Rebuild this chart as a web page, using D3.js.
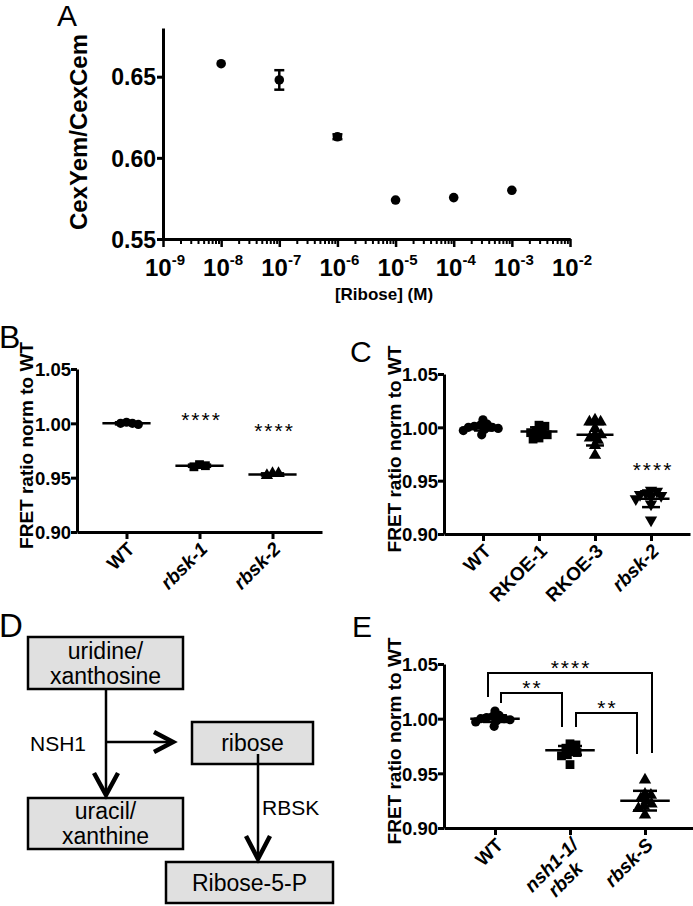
<!DOCTYPE html>
<html>
<head>
<meta charset="utf-8">
<script src="https://cdn.jsdelivr.net/npm/d3@7"></script>
<style>
  html, body { margin: 0; padding: 0; background: #fff; }
  svg { display: block; font-family: Arial, "Liberation Sans", Helvetica, sans-serif; }
</style>
</head>
<body>
<svg id="fig" width="693" height="906"></svg>
<script>
// ---------------- DATA ----------------
// Panel A
const aConc = [1e-8, 1e-7, 1e-6, 1e-5, 1e-4, 1e-3];
const aMean = [0.658, 0.648, 0.613, 0.574, 0.5755, 0.580];
const aErr  = [0, 0.006, 0.0015, 0, 0, 0];
const aYTicks = [0.55, 0.60, 0.65];
const aXExp = [-9, -8, -7, -6, -5, -4, -3, -2];

// Panel B
const bCats = ["WT", "rbsk-1", "rbsk-2"];
const bItalic = [false, true, true];
const bShapes = ["circle", "square", "triangle"];
const bPoints = [
  [1.001, 1.000, 0.999, 1.000],
  [0.962, 0.961, 0.960],
  [0.954, 0.952, 0.954]
];
const bMean = [1.000, 0.961, 0.953];
const bSD = [0.001, 0.001, 0.001];
const bSig = ["", "****", "****"];
const bSigY = [null, 1.0055, 0.9955];

// Panel C
const cCats = ["WT", "RKOE-1", "RKOE-3", "rbsk-2"];
const cItalic = [false, false, false, true];
const cShapes = ["circle", "square", "triangle", "triangleDown"];
const cPoints = [
  [1.000, 1.007, 0.993, 1.003, 0.998, 1.001, 0.999, 1.002, 0.997, 1.000],
  [1.002, 1.001, 0.997, 0.996, 0.995, 0.990, 0.989, 0.993],
  [1.007, 1.005, 1.005, 0.999, 0.993, 0.993, 0.990, 0.988, 0.983, 0.974],
  [0.941, 0.940, 0.938, 0.937, 0.936, 0.935, 0.933, 0.928, 0.913]
];
const cMean = [1.000, 0.996, 0.993, 0.933];
const cSD = [0.003, 0.004, 0.010, 0.0078];
const cSig = ["", "", "", "****"];
const cSigY = [null, null, null, 0.9625];

// Panel E
const eCats = ["WT", "nsh1-1/\nrbsk", "rbsk-S"];
const eItalic = [false, true, true];
const eShapes = ["circle", "square", "triangle"];
const ePoints = [
  [1.000, 1.007, 0.993, 1.003, 0.997, 1.001, 0.999, 1.000, 1.002, 0.998],
  [0.977, 0.976, 0.973, 0.971, 0.969, 0.967, 0.966, 0.958],
  [0.944, 0.931, 0.930, 0.927, 0.925, 0.922, 0.920, 0.918, 0.912]
];
const eMean = [1.000, 0.971, 0.925];
const eSD = [0.003, 0.004, 0.009];
const eBrackets = [
  { from: 0, to: 2, top: 1.0418, leftEnd: 1.0198, rightEnd: 0.9686, label: "****" },
  { from: 0, to: 1, top: 1.0235, leftEnd: 1.0143, rightEnd: 0.9924, label: "**" },
  { from: 1, to: 2, top: 1.0052, leftEnd: 0.9924, rightEnd: 0.9677, label: "**" }
];
const fretTicks = [0.90, 0.95, 1.00, 1.05];

// Panel D (diagram)
const dBoxes = [
  { lines: ["uridine/", "xanthosine"], x0: 28, x1: 183, y0: 637, y1: 689 },
  { lines: ["ribose"], x0: 192, x1: 313, y0: 722, y1: 764 },
  { lines: ["uracil/", "xanthine"], x0: 28, x1: 183, y0: 798, y1: 849 },
  { lines: ["Ribose-5-P"], x0: 166, x1: 333, y0: 862, y1: 903 }
];

// ---------------- DRAW ----------------
const svg = d3.select("#fig");
const BLACK = "#000";

function panelLetter(t, x, y, size) {
  svg.append("text").attr("x", x).attr("y", y).attr("font-size", size)
    .attr("fill", BLACK).text(t);
}

function styleAxis(g, w) {
  g.selectAll("path.domain").attr("stroke", BLACK).attr("stroke-width", w);
  g.selectAll(".tick line").attr("stroke", BLACK).attr("stroke-width", w);
}

// ---- Panel A ----
(function () {
  const x = d3.scaleLog().domain([1e-9, 1e-2]).range([163, 570]);
  const y = d3.scaleLinear().domain([0.55, 0.68]).range([239, 28]);
  panelLetter("A", 57, 26, 30);

  const yAx = svg.append("g").attr("transform", "translate(163,0)")
    .call(d3.axisLeft(y).tickValues(aYTicks).tickFormat(d3.format(".2f")).tickSize(6).tickSizeOuter(0));
  styleAxis(yAx, 3);
  yAx.selectAll("text").attr("font-size", 23).attr("font-weight", "bold").attr("fill", BLACK)
    .attr("x", -7).attr("dy", "0.36em");

  // minor ticks
  const minors = [];
  for (let k = -9; k < -2; k++) for (let m = 2; m <= 9; m++) minors.push(m * Math.pow(10, k));
  const xMin = svg.append("g").attr("transform", "translate(0,239)")
    .call(d3.axisBottom(x).tickValues(minors).tickFormat("").tickSize(5).tickSizeOuter(0));
  styleAxis(xMin, 3);
  xMin.selectAll(".tick line").attr("stroke-width", 2);
  const majors = aXExp.map(e => Math.pow(10, e));
  const xAx = svg.append("g").attr("transform", "translate(0,239)")
    .call(d3.axisBottom(x).tickValues(majors).tickFormat("").tickSize(8).tickSizeOuter(0));
  styleAxis(xAx, 3);
  xAx.selectAll(".tick line").attr("stroke-width", 2.5);

  const lab = svg.append("g").selectAll("text").data(aXExp).join("text")
    .attr("x", e => x(Math.pow(10, e)) + 2).attr("y", 276)
    .attr("text-anchor", "middle").attr("font-weight", "bold").attr("font-size", 24).attr("fill", BLACK);
  lab.append("tspan").text("10");
  lab.append("tspan").attr("dy", -11).attr("font-size", 15).text(e => String(e));

  svg.append("text").attr("x", 384).attr("y", 300).attr("text-anchor", "middle")
    .attr("font-weight", "bold").attr("font-size", 17).attr("fill", BLACK).text("[Ribose] (M)");

  svg.append("text").attr("transform", "translate(87,132) rotate(-90)")
    .attr("text-anchor", "middle").attr("font-weight", "bold").attr("font-size", 24)
    .attr("fill", BLACK).text("CexYem/CexCem");

  const data = aConc.map((c, i) => ({ c, m: aMean[i], e: aErr[i] }));
  const eb = svg.append("g").attr("stroke", BLACK).attr("stroke-width", 2.5);
  data.filter(d => d.e > 0).forEach(d => {
    const cx = x(d.c);
    eb.append("line").attr("x1", cx).attr("x2", cx).attr("y1", y(d.m + d.e)).attr("y2", y(d.m - d.e));
    eb.append("line").attr("x1", cx - 5).attr("x2", cx + 5).attr("y1", y(d.m + d.e)).attr("y2", y(d.m + d.e));
    eb.append("line").attr("x1", cx - 5).attr("x2", cx + 5).attr("y1", y(d.m - d.e)).attr("y2", y(d.m - d.e));
  });
  svg.append("g").selectAll("circle").data(data).join("circle")
    .attr("cx", d => x(d.c)).attr("cy", d => y(d.m)).attr("r", 4.8).attr("fill", BLACK);
})();

// ---- scatter panels ----
function swarm(values, y, r) {
  const placed = [];
  const order = values.map((v, i) => i).sort((a, b) => values[b] - values[a]);
  const res = new Array(values.length);
  order.forEach(i => {
    const py = y(values[i]);
    const cands = [0];
    placed.forEach(p => {
      const dy = Math.abs(p.y - py);
      if (dy < 2 * r) {
        const dx = Math.sqrt(4 * r * r - dy * dy);
        cands.push(p.x + dx, p.x - dx);
      }
    });
    cands.sort((a, b) => Math.abs(a) - Math.abs(b));
    let best = 0;
    for (const c of cands) {
      const ok = placed.every(p => Math.hypot(p.x - c, p.y - py) >= 2 * r - 0.01);
      if (ok) { best = c; break; }
    }
    placed.push({ x: best, y: py });
    res[i] = best;
  });
  return res;
}

function marker(g, shape, cx, cy) {
  if (shape === "circle") {
    g.append("circle").attr("cx", cx).attr("cy", cy).attr("r", 4.6).attr("fill", BLACK);
  } else if (shape === "square") {
    g.append("rect").attr("x", cx - 4.4).attr("y", cy - 4.4).attr("width", 8.8).attr("height", 8.8).attr("fill", BLACK);
  } else {
    const sym = d3.symbol().type(d3.symbolTriangle).size(66);
    const p = g.append("path").attr("d", sym()).attr("fill", BLACK);
    if (shape === "triangle") p.attr("transform", `translate(${cx},${cy})`);
    else p.attr("transform", `translate(${cx},${cy}) rotate(180)`);
  }
}

function scatterPanel(opt) {
  const y = d3.scaleLinear().domain([0.90, 1.05]).range([opt.y0, opt.y1]);
  const x = d3.scalePoint().domain(opt.cats).range([opt.x0, opt.x1]).padding(opt.pad);
  const step = x.step();

  const yAx = svg.append("g").attr("transform", `translate(${opt.x0},0)`)
    .call(d3.axisLeft(y).tickValues(fretTicks).tickFormat(d3.format(".2f")).tickSize(6).tickSizeOuter(0));
  styleAxis(yAx, 3);
  yAx.selectAll("text").attr("font-size", 18.5).attr("font-weight", "bold").attr("fill", BLACK)
    .attr("x", -6).attr("dy", "0.36em");

  const xAx = svg.append("g").attr("transform", `translate(0,${opt.y0})`)
    .call(d3.axisBottom(x).tickFormat("").tickSize(7).tickSizeOuter(0));
  styleAxis(xAx, 3);

  // rotated category labels
  opt.cats.forEach((c, i) => {
    const t = svg.append("text")
      .attr("transform", `translate(${x(c) + 5},${opt.y0 + 14}) rotate(-45)`)
      .attr("text-anchor", "end").attr("font-weight", "bold").attr("font-size", 19)
      .attr("font-style", opt.italic[i] ? "italic" : "normal").attr("fill", BLACK);
    const lines = c.split("\n");
    const spans = lines.map((ln, k) => t.append("tspan").attr("x", 0).attr("y", k * 20 + 6).text(ln));
    if (lines.length > 1) {
      const lens = spans.map(s => s.node().getComputedTextLength());
      const mx = d3.max(lens);
      spans.forEach((s, k) => s.attr("x", -(mx - lens[k]) / 2));
    }
  });

  svg.append("text").attr("transform", `translate(${opt.labX},${(opt.y0 + opt.y1) / 2 - 5}) rotate(-90)`)
    .attr("text-anchor", "middle").attr("font-weight", "bold").attr("font-size", 19)
    .attr("fill", BLACK).text("FRET ratio norm to WT");

  const g = svg.append("g");
  opt.cats.forEach((c, i) => {
    const cx = x(c);
    const offs = swarm(opt.points[i], y, 3);
    opt.points[i].forEach((v, k) => marker(g, opt.shapes[i], cx + offs[k], y(v)));
    const hw = step * 0.33, cw = step * 0.16;
    const m = opt.mean[i], s = opt.sd[i];
    g.append("line").attr("x1", cx - hw).attr("x2", cx + hw).attr("y1", y(m)).attr("y2", y(m))
      .attr("stroke", BLACK).attr("stroke-width", 2.5);
    g.append("line").attr("x1", cx).attr("x2", cx).attr("y1", y(m + s)).attr("y2", y(m - s))
      .attr("stroke", BLACK).attr("stroke-width", 2.5);
    [m + s, m - s].forEach(v => g.append("line").attr("x1", cx - cw).attr("x2", cx + cw)
      .attr("y1", y(v)).attr("y2", y(v)).attr("stroke", BLACK).attr("stroke-width", 2.5));
    if (opt.sig && opt.sig[i]) {
      svg.append("text").attr("x", cx + 2).attr("y", y(opt.sigY[i]) + 10).attr("text-anchor", "middle")
        .attr("font-size", 21).attr("letter-spacing", 2).attr("fill", BLACK).text(opt.sig[i]);
    }
  });
  return { x, y };
}

panelLetter("B", -1, 348, 32);
scatterPanel({ cats: bCats, italic: bItalic, shapes: bShapes, points: bPoints, mean: bMean, sd: bSD,
  sig: bSig, sigY: bSigY, x0: 77, x1: 322, y0: 532, y1: 369, pad: 0.678, labX: 33 });

panelLetter("C", 350, 362, 30);
scatterPanel({ cats: cCats, italic: cItalic, shapes: cShapes, points: cPoints, mean: cMean, sd: cSD,
  sig: cSig, sigY: cSigY, x0: 444, x1: 690, y0: 534, y1: 374, pad: 0.696, labX: 401 });

panelLetter("E", 352, 637, 30);
const eSc = scatterPanel({ cats: eCats, italic: eItalic, shapes: eShapes, points: ePoints, mean: eMean, sd: eSD,
  sig: null, sigY: null, x0: 444, x1: 696, y0: 828, y1: 664, pad: 0.68, labX: 401 });

// brackets
(function () {
  const { x, y } = eSc;
  const offs = [[-7, 7], [6, -8], [6, -8]];
  eBrackets.forEach((b, i) => {
    const xl = x(eCats[b.from]) + offs[i][0];
    const xr = x(eCats[b.to]) + offs[i][1];
    svg.append("path")
      .attr("d", `M${xl},${y(b.leftEnd)}V${y(b.top)}H${xr}V${y(b.rightEnd)}`)
      .attr("fill", "none").attr("stroke", BLACK).attr("stroke-width", 2);
    svg.append("text").attr("x", (xl + xr) / 2 + 1).attr("y", y(b.top) + 2).attr("text-anchor", "middle")
      .attr("font-size", 21).attr("letter-spacing", 2).attr("fill", BLACK).text(b.label);
  });
})();

// ---- Panel D ----
(function () {
  panelLetter("D", -1, 637, 33);
  const g = svg.append("g");
  dBoxes.forEach(b => {
    g.append("rect").attr("x", b.x0).attr("y", b.y0).attr("width", b.x1 - b.x0).attr("height", b.y1 - b.y0)
      .attr("fill", "#e0e0e0").attr("stroke", BLACK).attr("stroke-width", 2.5);
    const cx = (b.x0 + b.x1) / 2;
    const cy = (b.y0 + b.y1) / 2;
    const n = b.lines.length;
    b.lines.forEach((ln, k) => {
      g.append("text").attr("x", cx).attr("y", cy + (k - (n - 1) / 2) * 25 + 8)
        .attr("text-anchor", "middle").attr("font-size", 23).attr("fill", BLACK).text(ln);
    });
  });
  const L = (x1, y1, x2, y2, w) => g.append("line").attr("x1", x1).attr("y1", y1).attr("x2", x2).attr("y2", y2)
    .attr("stroke", BLACK).attr("stroke-width", w);
  const chevron = (pts) => g.append("path").attr("d", d3.line()(pts)).attr("fill", "none")
    .attr("stroke", BLACK).attr("stroke-width", 4.5).attr("stroke-linejoin", "miter").attr("stroke-linecap", "butt");
  const b0 = dBoxes[0], b1 = dBoxes[1], b2 = dBoxes[2], b3 = dBoxes[3];
  const vx = 106;
  L(vx, b0.y1, vx, b2.y0 - 2, 2.5);
  chevron([[vx - 12, b2.y0 - 25], [vx, b2.y0 - 3], [vx + 12, b2.y0 - 25]]);
  const hy = 742;
  L(vx, hy, 173, hy, 2.5);
  chevron([[154, hy - 10], [173, hy], [154, hy + 10]]);
  const rx = 258;
  L(rx, b1.y1 - 10, rx, b3.y0 - 2, 2.5);
  chevron([[rx - 12, b3.y0 - 26], [rx, b3.y0 - 3], [rx + 12, b3.y0 - 26]]);
  g.append("text").attr("x", 30).attr("y", 751).attr("font-size", 21).attr("fill", BLACK).text("NSH1");
  g.append("text").attr("x", 262).attr("y", 815).attr("font-size", 21).attr("fill", BLACK).text("RBSK");
})();
</script>
</body>
</html>
